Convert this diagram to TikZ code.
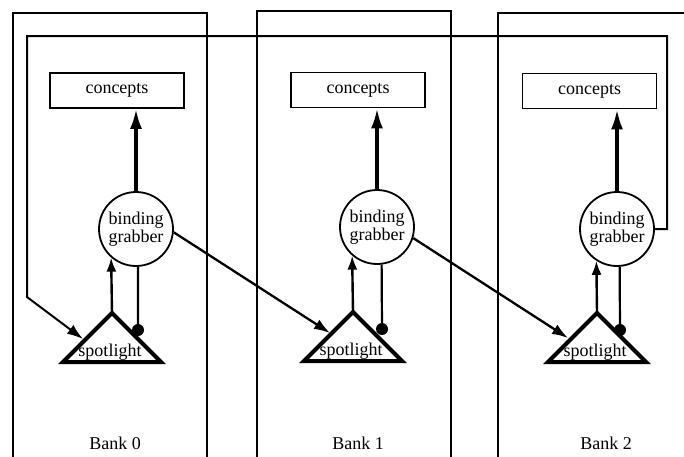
\documentclass[tikz,border=0pt]{standalone}
\usepackage{fontspec}
\setmainfont{Liberation Serif}
\usetikzlibrary{arrows.meta,calc}
\begin{document}
\begin{tikzpicture}[x=1pt,y=-1pt,
  bankbox/.style={line width=2pt},
  conceptbox/.style={draw,line width=1.8pt,minimum width=134pt,minimum height=35pt,
    inner sep=0pt,font=\fontsize{18}{20}\selectfont},
  grabber/.style={draw,circle,line width=1.8pt,minimum size=74pt,inner sep=0pt,
    align=center,font=\fontsize{18}{18}\selectfont},
  spot/.style={line width=4pt,line join=miter},
  spottext/.style={anchor=base,inner sep=0pt,font=\fontsize{18}{20}\selectfont},
  banklabel/.style={anchor=base,inner sep=0pt,font=\fontsize{18}{20}\selectfont},
  heavy/.style={line width=3.2pt,-{Latex[length=20pt,width=12pt]}},
  link/.style={line width=2.3pt,-{Latex[length=16pt,width=11pt]}},
  uplink/.style={line width=2.4pt,-{Latex[length=14pt,width=10pt]}},
  feedback/.style={line width=2pt,-{Latex[length=16pt,width=11pt]}},
  inhib/.style={line width=2.2pt},
  dot/.style={fill=black}
]
\useasboundingbox (0,0) rectangle (684,456);
\clip (0,0) rectangle (684,456);

% bank frames (open at the bottom edge)
\draw[bankbox] (13,13) rectangle (207,480);
\draw[bankbox] (257,11) rectangle (451,480);
\draw[bankbox] (498,13) rectangle (720,480);

% bank labels
\node[banklabel] (b0) at (115,449) {Bank 0};
\node[banklabel] (b1) at (358,449) {Bank 1};
\node[banklabel] (b2) at (606,449) {Bank 2};

% concept stores
\node[conceptbox] (c0) at (117,90.5) {concepts};
\node[conceptbox] (c1) at (358,90) {concepts};
\node[conceptbox] (c2) at (589.5,91) {concepts};

% binding grabbers
\node[grabber] (g0) at (136,229) {binding\\grabber};
\node[grabber] (g1) at (377,227) {binding\\grabber};
\node[grabber] (g2) at (617,229) {binding\\grabber};

% spotlights
\coordinate (s0) at (112,313);
\coordinate (s1) at (353,312);
\coordinate (s2) at (597,313);
\draw[spot] (s0) -- ++(-49,49) -- ++(98,0) -- cycle;
\draw[spot] (s1) -- ++(-49,49) -- ++(98,0) -- cycle;
\draw[spot] (s2) -- ++(-49,49) -- ++(98,0) -- cycle;
\node[spottext] (sl0) at (110,356) {spotlight};
\node[spottext] (sl1) at (351,355) {spotlight};
\node[spottext] (sl2) at (595,356) {spotlight};

% entry points on the spotlight edges and inhibition dots
\coordinate (t0in) at (83,339);
\coordinate (t1in) at (330,333);
\coordinate (t2in) at (568,338);
\coordinate (d0) at (138,330);
\coordinate (d1) at (382,329);
\coordinate (d2) at (620,330);

% grabber -> concepts
\draw[heavy] (g0.north) -- (g0.north |- c0.south);
\draw[heavy] (g1.north) -- (g1.north |- c1.south);
\draw[heavy] (g2.north) -- (g2.north |- c2.south);

% spotlight -> grabber
\draw[uplink] (s0) -- (g0.229.6);
\draw[uplink] (s1) -- (g1.229.6);
\draw[uplink] (s2) -- (g2.237.3);

% grabber -| spotlight (inhibitory)
\draw[inhib] (g0.273.1) -- (d0);
\draw[inhib] (g1.277.8) -- (d1);
\draw[inhib] (g2.274.6) -- (d2);
\fill[dot] (d0) circle (6);
\fill[dot] (d1) circle (6);
\fill[dot] (d2) circle (6);

% grabber -> next bank's spotlight
\draw[link] (g0.355) -- (t1in);
\draw[link] (g1.343) -- (t2in);

% feedback from the last bank to the first
\coordinate (fbA) at (667,36);
\coordinate (fbB) at (27,36);
\coordinate (fbC) at (27,297);
\draw[feedback] (g2.east) -| (fbA) -- (fbB) -- (fbC) -- (t0in);
\end{tikzpicture}
\end{document}
